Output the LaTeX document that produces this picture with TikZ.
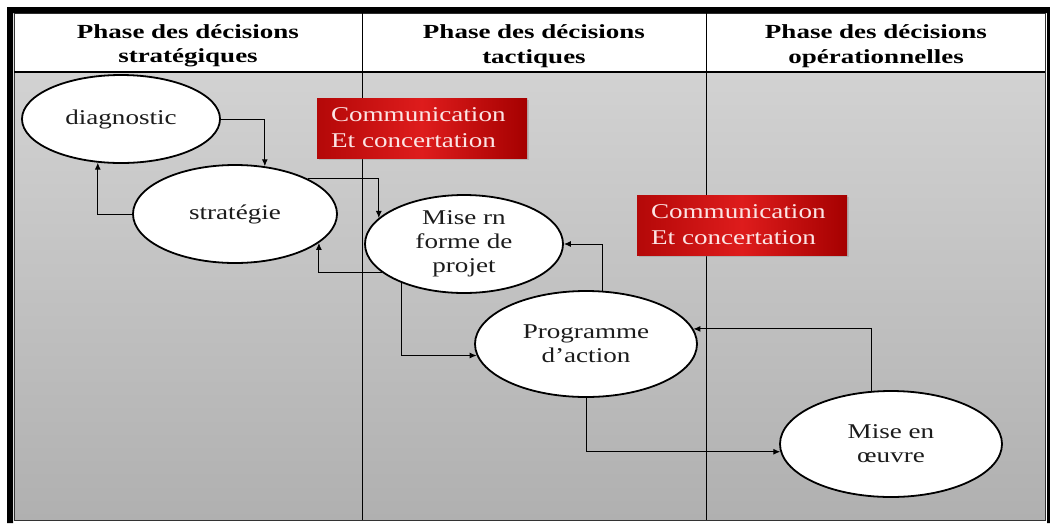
\documentclass[tikz,border=0pt]{standalone}
\usepackage{fontspec}
\setmainfont[FakeStretch=1.29]{Liberation Serif}
\newfontfamily\headfont[FakeStretch=1.35]{Liberation Serif}
\usetikzlibrary{arrows.meta,shapes.geometric,shadows}
\definecolor{bodytop}{RGB}{210,210,210}
\definecolor{bodybottom}{RGB}{176,176,176}
\definecolor{boxred}{RGB}{222,28,28}
\definecolor{boxedge}{RGB}{180,8,8}
\definecolor{boxdark}{RGB}{165,0,0}
\definecolor{boxtext}{RGB}{252,228,228}
\definecolor{inktext}{RGB}{28,28,28}
\tikzset{
	phase/.style={
			ellipse, draw=black, line width=1.8pt, fill=white, inner sep=0pt,
			align=center, text=inktext, font=\fontsize{21}{24}\selectfont},
	headtext/.style={
			align=center, font=\headfont\bfseries\fontsize{20}{24.5}\selectfont},
	redbox/.style={
			rectangle, minimum width=210pt, minimum height=60pt, text width=182pt,
			align=left, text=boxtext, font=\fontsize{21}{26}\selectfont,
			left color=boxedge, right color=boxdark, middle color=boxred,
			drop shadow={opacity=0.3, shadow xshift=2pt, shadow yshift=-2pt}},
	link/.style={-{Latex[length=7pt,width=6pt]}, line width=1pt, draw=black}
}

\begin{document}
\begin{tikzpicture}[x=1pt, y=-1pt]
				\useasboundingbox (0,0) rectangle (1050,523);
				% frame and columns
				\shade [top color=bodytop, bottom color=bodybottom] (14,72) rectangle (1045,520);
				\fill [white] (14,13) rectangle (1046,72);
				\draw [line width=1pt, black!80] (14,13) rectangle (1045,520);
				\draw [line width=1.6pt, black] (14,72) -- (1045,72);
				\draw [line width=0.9pt, black]	(362,13) -- (362,520)
												(706,13) -- (706,520);
				\fill [black]	(7,7) rectangle (1050,13)
								(7,7) rectangle (13,523)
								(1047,7) rectangle (1050,523);
				% column titles
				\node [headtext] (strtitle) at (188,46) {Phase des décisions\\stratégiques};
				\node [headtext] (tactitle) at (534,46) {Phase des décisions\\tactiques};
				\node [headtext] (optitle) at (876,46) {Phase des décisions\\opérationnelles};
				% phases
				\node [phase, minimum width=198pt, minimum height=88pt] (diag) at (121,119) {diagnostic};
				\node [phase, minimum width=204pt, minimum height=98pt] (strat) at (235,214) {stratégie};
				\node [phase, minimum width=198pt, minimum height=98pt] (mise) at (464,244) {Mise rn\\forme de\\projet};
				\node [phase, minimum width=222pt, minimum height=106pt] (prog) at (586,344) {Programme\\d’action};
				\node [phase, minimum width=222pt, minimum height=106pt] (oeuvre) at (891,444) {Mise en\\œuvre};
				% communication boxes
				\node [redbox] (com1) at (422,128) {Communication\\Et concertation};
				\node [redbox] (com2) at (742,225) {Communication\\Et concertation};
				% links
				\draw [link] (diag.east) -| (strat.58);
				\draw [link] (strat.west) -| (diag.242);
				\draw [link] (strat.26) -| (mise.163);
				\draw [link] (mise.199) -| (strat.-19);
				\draw [link] (mise.212) |- (prog.186);
				\draw [link] (prog.73) |- (mise.east);
				\draw [link] (oeuvre.110) |- (prog.8);
				\draw [link] (prog.south) |- (oeuvre.184);
			\end{tikzpicture}
\end{document}
